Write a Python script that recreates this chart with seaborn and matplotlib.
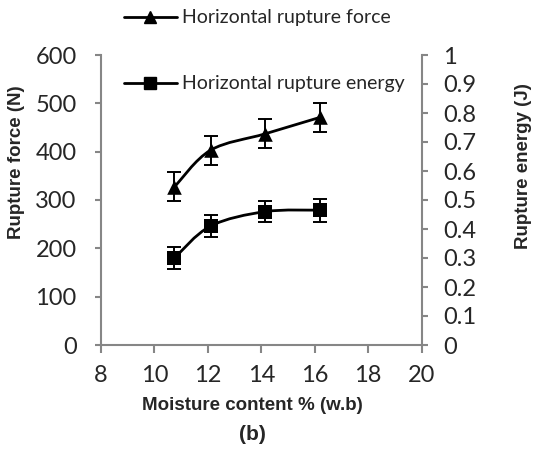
import numpy as np
import matplotlib
matplotlib.use("Agg")
import matplotlib.pyplot as plt
import seaborn as sns
from matplotlib.path import Path
from matplotlib.patches import PathPatch
from matplotlib.lines import Line2D

# data
moisture = [10.75, 12.1, 14.15, 16.2]
force = [327, 403, 437, 471]
force_err = [30, 30, 30, 30]
energy = [0.30, 0.41, 0.46, 0.465]
energy_err = [0.038, 0.037, 0.037, 0.04]

xticks = [8, 10, 12, 14, 16, 18, 20]
force_ticks = [0, 100, 200, 300, 400, 500, 600]
energy_ticks = [0, 0.1, 0.2, 0.3, 0.4, 0.5, 0.6, 0.7, 0.8, 0.9, 1]
energy_ticklabels = ["0", "0.1", "0.2", "0.3", "0.4", "0.5", "0.6", "0.7", "0.8", "0.9", "1"]

sns.set_style("white")
plt.rcParams["font.family"] = ["Lato", "DejaVu Sans"]

grey = "#868686"
tick_fs = 17
lab_font = dict(family="Liberation Sans", weight="bold", size=13.5)


def smooth_path(xs, ys):
    # excel-style smoothed line: cubic bezier through the points
    p = np.column_stack([xs, ys]).astype(float)
    n = len(p)
    verts = [p[0]]
    codes = [Path.MOVETO]
    for i in range(n - 1):
        p0 = p[i - 1] if i > 0 else p[i]
        p3 = p[i + 2] if i + 2 < n else p[i + 1]
        c1 = p[i] + (p[i + 1] - p0) / 6
        c2 = p[i + 1] - (p3 - p[i]) / 6
        verts += [c1, c2, p[i + 1]]
        codes += [Path.CURVE4] * 3
    return Path(verts, codes)


fig = plt.figure(figsize=(5.36, 4.51), dpi=100)
ax = fig.add_axes([101 / 536, 1 - 345 / 451, 320.5 / 536, 290 / 451])
ax2 = ax.twinx()

# force (left axis)
ax.add_patch(PathPatch(smooth_path(moisture, force), fill=False, lw=2, ec="black", zorder=3))
ax.errorbar(moisture, force, yerr=force_err, fmt="none", ecolor="black",
            elinewidth=1.4, capsize=5, capthick=1.4, zorder=3)
sns.scatterplot(x=moisture, y=force, marker="^", s=110, color="black",
                edgecolor="black", linewidth=0, ax=ax, zorder=4)

# energy (right axis)
ax2.add_patch(PathPatch(smooth_path(moisture, energy), fill=False, lw=2, ec="black", zorder=3))
ax2.errorbar(moisture, energy, yerr=energy_err, fmt="none", ecolor="black",
             elinewidth=1.4, capsize=5, capthick=1.4, zorder=3)
sns.scatterplot(x=moisture, y=energy, marker="s", s=95, color="black",
                edgecolor="black", linewidth=0, ax=ax2, zorder=4)

ax.set_xlim(8, 20)
ax.set_ylim(0, 600)
ax2.set_ylim(0, 1)
ax.set_xticks(xticks)
ax.set_yticks(force_ticks)
ax2.set_yticks(energy_ticks)
ax2.set_yticklabels(energy_ticklabels)

for a in (ax, ax2):
    for s in a.spines.values():
        s.set_visible(False)
ax.spines["left"].set_visible(True)
ax.spines["bottom"].set_visible(True)
ax2.spines["right"].set_visible(True)
for s in (ax.spines["left"], ax.spines["bottom"], ax2.spines["right"]):
    s.set_color(grey)
    s.set_linewidth(1.5)

ax.tick_params(axis="x", direction="out", length=5.5, width=1.5, color=grey,
               labelsize=tick_fs, pad=9, bottom=True)
ax.tick_params(axis="y", direction="out", length=4.5, width=1.5, color=grey,
               labelsize=tick_fs, pad=13, left=True)
ax2.tick_params(axis="y", direction="out", length=4.5, width=1.5, color=grey,
                labelsize=tick_fs, pad=11, right=True)
ax.set_xlabel("")
ax.set_ylabel("")
ax2.set_ylabel("")

fig.text(252 / 536, 1 - 405 / 451, "Moisture content % (w.b)", ha="center", va="center", **lab_font)
fig.text(252 / 536, 1 - 434 / 451, "(b)", ha="center", va="center",
         family="Liberation Sans", weight="bold", size=15)
fig.text(17 / 536, 1 - 162 / 451, "Rupture force (N)", rotation=90, ha="center", va="center", **lab_font)
fig.text(523 / 536, 1 - 166 / 451, "Rupture energy (J)", rotation=90, ha="center", va="center", **lab_font)

# legends sit above the plot, one entry each
h_force = Line2D([], [], color="black", lw=2, marker="^", markersize=8.5)
h_energy = Line2D([], [], color="black", lw=2, marker="s", markersize=8)
leg1 = fig.legend([h_force], ["Horizontal rupture force"], loc="center left",
                  bbox_to_anchor=(124 / 536, 1 - 18 / 451), frameon=False,
                  fontsize=14, handlelength=2.7, handletextpad=0.3,
                  borderpad=0, borderaxespad=0)
leg2 = fig.legend([h_energy], ["Horizontal rupture energy"], loc="center left",
                  bbox_to_anchor=(124 / 536, 1 - 84 / 451), frameon=False,
                  fontsize=14, handlelength=2.7, handletextpad=0.3,
                  borderpad=0, borderaxespad=0)

fig.savefig("out.png", dpi=100)
